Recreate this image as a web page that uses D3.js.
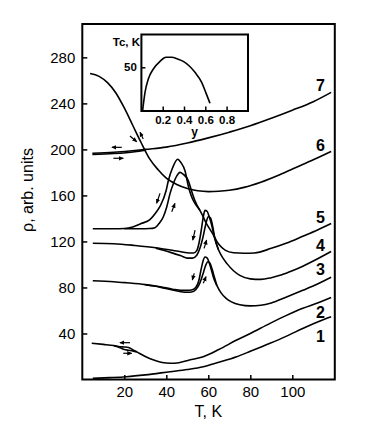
<!DOCTYPE html>
<html><head><meta charset="utf-8">
<script src="https://cdn.jsdelivr.net/npm/d3@7/dist/d3.min.js"></script>
<style>
body{margin:0;background:#fff;}
svg{display:block;font-family:"Liberation Sans",Arial,sans-serif;}
</style></head>
<body><svg id="c" width="378" height="432"></svg>
<script>
// ---- data (T in K, rho in arb. units) ----
const xTicks = [20, 40, 60, 80, 100];
const yTicks = [40, 80, 120, 160, 200, 240, 280];
const insetXTicks = [0.2, 0.4, 0.6, 0.8];
const insetYTicks = [50];

const curve1 = [[5,1],[13,1.6],[21,2.4],[30,4],[41.8,6.8],[50,8.7],[57.6,11.1],[65,15],[73.5,19.8],[80,24.5],[89.4,31.5],[97,37.5],[105.2,44.5],[112,50],[118.5,54.6]];
const curve2a = [[4.5,31.5],[10,30.5],[15,29.5],[18,28.5],[20,28.3],[22,27.8],[24,26],[26,24],[30,20],[34,16.9],[38,14.8],[42,14.1],[46,14.6],[51,16.9],[57.6,19.8],[65,26],[73.5,34.3],[80,40],[89.4,48.8],[97,55.5],[105,61.9],[112,66.5],[118.5,71.3]];
const curve2b = [[15,29.3],[18,27.6],[20,26],[22,25.4],[24,24.9],[26,24]];
const curve3a = [[5,85.8],[15,85],[21,84.1],[30,82.5],[37,80.6],[43,78.5],[47,77.5],[50,77.5],[52,77.8],[54,80],[55.5,86],[56.5,95],[57.5,103],[58.4,106.5],[59.5,105.5],[60.5,101],[61.5,95],[62.5,88.5],[64,82],[66,75.5],[68.5,70.5],[71,67.5],[75,65],[80,64],[85,64.5],[90,66.5],[97,71.5],[105,77.5],[112,83],[118.5,88.8]];
const curve3b = [[30,82.3],[37,80.3],[43,77.8],[47,76.3],[50,75.8],[52,76],[54,78],[56,84],[57.5,92],[58.7,99],[59.8,102.4],[60.8,101],[61.8,96],[62.8,89.5],[64,82]];
const curve4a = [[5,118.4],[15,118],[25,116.5],[35,114.5],[42,112.5],[47,111],[51,110],[53,110],[54.5,112],[55.5,118],[56.5,128],[57.5,140],[58.4,147],[59.5,146],[60.5,141],[61.5,135],[63,123],[64.8,113],[67,105.5],[69,100.5],[72,94.5],[75,90.5],[80,87.5],[85,87],[90,88.5],[95,91],[100,94.5],[105,98.5],[110,103],[118.5,111.3]];
const curve4b = [[35,114],[42,110.5],[47,107.5],[50,105.5],[52.5,105.5],[54.5,108],[56,114],[57.5,124],[58.8,135],[60,141.5],[61,140.5],[62,134],[63,124],[64.8,113]];
const curve5a = [[5,131],[15,131],[20,131.2],[24,132.5],[28,135.5],[32.2,139],[35,145],[37,150.5],[39.9,164],[41,173],[43,184],[45.4,191.5],[47,188.5],[48.9,181.5],[50.5,168],[52,159],[54,152],[56,147],[59,136],[62,127],[65,117.5],[68,112.5],[72,110.2],[77,109.8],[82,110],[90,114],[97,118.4],[105,124.5],[112,130],[118.5,135.6]];
const curve5b = [[20,131],[28,131],[32,131.2],[34.6,132],[36.5,135.5],[38.6,141.5],[40.2,150],[41.8,161.8],[43.3,170],[45,177],[46.5,180],[48,178.5],[50.5,172.8],[52,164],[53.5,156],[56,147]];
const curve6 = [[3.7,266],[8,263.5],[12,258],[16,249],[20,236],[24,221],[28,206],[32,192],[36,182.5],[40,175],[45,169.5],[50,166],[55,164],[60,163.3],[65,163.6],[70,164.5],[77,167],[85,171.5],[94,178],[102,184.5],[110,191],[118.5,198.3]];
const curve7a = [[4.8,196.6],[15,197.5],[25,199],[30,200],[40,202],[50,205.5],[60,210],[70,215],[80,220.5],[90,227],[100,234],[110,241.5],[118.5,249.6]];
const curve7b = [[4.8,195.6],[15,196.4],[25,198],[30,199.4]];
const curves = [curve1, curve2a, curve2b, curve3a, curve3b, curve4a, curve4b, curve5a, curve5b, curve6, curve7a, curve7b];

const curveNames = ["1","2","3","4","5","6","7"];
const nameT = [113.4,113.4,113.4,113.4,113.4,113.4,113.4];
const nameRho = [32.8,53.7,90.6,111.9,136.3,198.6,251];

// hysteresis arrows: [T0, rho0, T1, rho1] (arrow points to second pair)
const arrows = [
  [18.8,201.8,14.1,201.8],[14.8,192.3,19.5,192.3],
  [22.7,211.6,25.9,206.7],[29,209,27.5,214.9],
  [37,161.8,35.4,153.2],[42.6,145.8,44.1,153.1],
  [53.7,129.9,52.6,121.2],[58,114,59.2,121.2],
  [53.3,92.3,52.4,86.5],[57.6,83.6,58.9,89.4],
  [22.7,32,17.9,32],[19.5,22.8,23.5,22.8]
];

// inset: Tc (K) versus y
const insetCurve = [[0.012,1.1],[0.034,21.4],[0.065,36.6],[0.112,48],[0.175,56.8],[0.231,61.4],[0.284,61.4],[0.34,59.5],[0.393,56.8],[0.45,51.5],[0.503,44.3],[0.566,32.8],[0.605,21],[0.644,8.8]];

// ---- drawing ----
const svg = d3.select("#c");
const L = 82.3, R = 334.8, T = 24, B = 379.5;
const x = d3.scaleLinear().domain([0,120]).range([L, L + 2.1*120]);
const y = d3.scaleLinear().domain([0,309]).range([B, T]);

const line = d3.line().x(d => x(d[0])).y(d => y(d[1])).curve(d3.curveMonotoneX);

svg.append("g").selectAll("path").data(curves).join("path")
  .attr("d", line).attr("fill","none").attr("stroke","#000").attr("stroke-width",1.6)
  .attr("stroke-linejoin","round");

// frame
svg.append("rect").attr("x",L).attr("y",T).attr("width",R-L).attr("height",B-T)
  .attr("fill","none").attr("stroke","#000").attr("stroke-width",2);

const gx = svg.append("g").attr("transform",`translate(0,${B})`)
  .call(d3.axisBottom(x).tickValues(xTicks).tickSize(-4.5).tickPadding(7));
const gy = svg.append("g").attr("transform",`translate(${L},0)`)
  .call(d3.axisLeft(y).tickValues(yTicks).tickSize(-5).tickPadding(7));
[gx,gy].forEach(g => {
  g.select(".domain").remove();
  g.selectAll("line").attr("stroke","#000").attr("stroke-width",1.5);
  g.selectAll("text").attr("font-size",15).attr("fill","#000").attr("font-family","Liberation Sans, Arial, sans-serif");
});

svg.append("text").attr("x",208.3).attr("y",417.3).attr("text-anchor","middle")
  .attr("font-size",16).text("T, K");
svg.append("text").attr("transform","translate(33,190) rotate(-90)").attr("text-anchor","middle")
  .attr("font-size",16).text("ρ, arb. units");

// curve numbers
svg.append("g").selectAll("text").data(curveNames).join("text")
  .attr("x",(d,i)=>x(nameT[i])).attr("y",(d,i)=>y(nameRho[i]))
  .attr("text-anchor","middle").attr("font-size",16).attr("font-weight","bold").text(d=>d);

// arrows
const defs = svg.append("defs");
defs.append("marker").attr("id","ah").attr("viewBox","0 0 8 8").attr("refX",7).attr("refY",4)
  .attr("markerWidth",5).attr("markerHeight",5).attr("markerUnits","userSpaceOnUse").attr("orient","auto")
  .append("path").attr("d","M0,0.5 L8,4 L0,7.5 Z").attr("fill","#000");
svg.append("g").selectAll("line").data(arrows).join("line")
  .attr("x1",d=>x(d[0])).attr("y1",d=>y(d[1])).attr("x2",d=>x(d[2])).attr("y2",d=>y(d[3]))
  .attr("stroke","#000").attr("stroke-width",1.2).attr("marker-end","url(#ah)");

// inset
const iL = 141.4, iR = 248, iT = 34.5, iB = 111;
const ix = d3.scaleLinear().domain([0,1]).range([iL, iL + 106.5]);
const iy = d3.scaleLinear().domain([0,87.5]).range([iB, iT]);
svg.append("rect").attr("x",iL).attr("y",iT).attr("width",iR-iL).attr("height",iB-iT)
  .attr("fill","#fff").attr("stroke","#000").attr("stroke-width",2);
svg.append("path").datum(insetCurve)
  .attr("d", d3.line().x(d=>ix(d[0])).y(d=>iy(d[1])).curve(d3.curveMonotoneX))
  .attr("fill","none").attr("stroke","#000").attr("stroke-width",1.6);
const igx = svg.append("g").attr("transform",`translate(0,${iB})`)
  .call(d3.axisBottom(ix).tickValues(insetXTicks).tickSize(-4.5).tickPadding(5).tickFormat(d3.format(".1f")));
const igy = svg.append("g").attr("transform",`translate(${iL},0)`)
  .call(d3.axisLeft(iy).tickValues(insetYTicks).tickSize(-4).tickPadding(4.5));
[igx,igy].forEach(g => {
  g.select(".domain").remove();
  g.selectAll("line").attr("stroke","#000").attr("stroke-width",1.5);
  g.selectAll("text").attr("font-size",11.5).attr("font-weight","bold").attr("fill","#000").attr("font-family","Liberation Sans, Arial, sans-serif");
});
svg.append("text").attr("x",140).attr("y",45.7).attr("text-anchor","end")
  .attr("font-size",11.5).attr("font-weight","bold").text("Tc, K");
svg.append("text").attr("x",ix(0.5)).attr("y",135.5).attr("text-anchor","middle")
  .attr("font-size",12).attr("font-weight","bold").text("y");
</script></body></html>
